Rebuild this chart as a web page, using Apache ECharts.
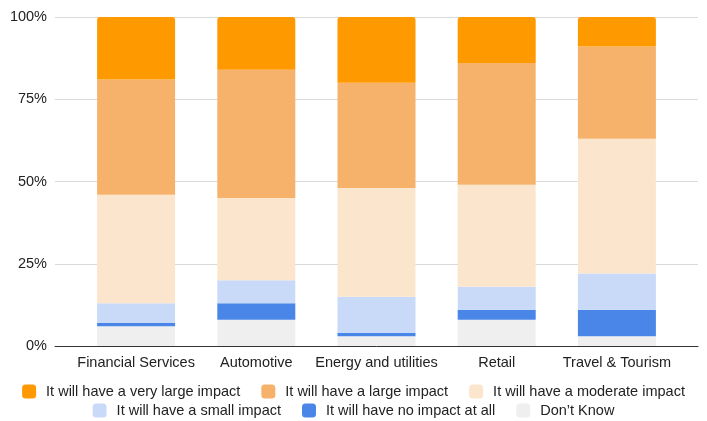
<!DOCTYPE html>
<html>
<head>
<meta charset="utf-8">
<script src="https://cdn.jsdelivr.net/npm/echarts@6/dist/echarts.min.js"></script>
<style>
  html, body { margin: 0; padding: 0; background: #fff; }
  #chart { width: 707px; height: 421px; }
</style>
</head>
<body>
<div id="chart"></div>
<script>
// Sectors along the x axis
var categories = ['Financial Services', 'Automotive', 'Energy and utilities', 'Retail', 'Travel & Tourism'];

// Share of respondents (%) per answer, stacked bottom to top
var dontKnow      = [6, 8, 3, 8, 3];
var noImpact      = [1, 5, 1, 3, 8];
var smallImpact   = [6, 7, 11, 7, 11];
var moderateImpact = [33, 25, 33, 31, 41];
var largeImpact   = [35, 39, 32, 37, 28];
var veryLargeImpact = [19, 16, 20, 14, 9];

var yTicks = [0, 25, 50, 75, 100];

var seriesDefs = [
  { name: 'Don\u2019t Know', data: dontKnow, color: '#efefef' },
  { name: 'It will have no impact at all', data: noImpact, color: '#4a86e8' },
  { name: 'It will have a small impact', data: smallImpact, color: '#c9daf8' },
  { name: 'It will have a moderate impact', data: moderateImpact, color: '#fce5cd' },
  { name: 'It will have a large impact', data: largeImpact, color: '#f6b26b' },
  { name: 'It will have a very large impact', data: veryLargeImpact, color: '#ff9900' }
];

var font = 'Arial, "Liberation Sans", Helvetica, sans-serif';
var chart = echarts.init(document.getElementById('chart'), null, { renderer: 'canvas' });

var series = seriesDefs.map(function (s, i) {
  return {
    name: s.name,
    type: 'bar',
    stack: 'total',
    xAxisIndex: 1,
    yAxisIndex: 1,
    barWidth: 78,
    data: s.data,
    itemStyle: {
      color: s.color,
      borderRadius: i === seriesDefs.length - 1 ? [3, 3, 0, 0] : 0
    },
    emphasis: { disabled: true }
  };
});

var legendText = { fontFamily: font, fontSize: 14.5, color: '#222', padding: [0, 0, 0, 5] };

chart.setOption({
  animation: false,
  backgroundColor: '#ffffff',
  legend: [
    {
      data: ['It will have a very large impact', 'It will have a large impact', 'It will have a moderate impact'],
      top: 379, left: 'center',
      icon: 'roundRect', itemWidth: 14, itemHeight: 14, itemGap: 21,
      textStyle: legendText
    },
    {
      data: ['It will have a small impact', 'It will have no impact at all', 'Don\u2019t Know'],
      top: 398, left: 'center',
      icon: 'roundRect', itemWidth: 14, itemHeight: 14, itemGap: 21,
      textStyle: legendText
    }
  ],
  grid: [
    { left: 55, right: 9, top: 17, bottom: 75 },
    { left: 76, right: 30, top: 17, bottom: 75 }
  ],
  xAxis: [
    {
      gridIndex: 0, type: 'value', min: 0, max: 1,
      axisLine: { show: true, onZero: false, lineStyle: { color: '#333', width: 1 } },
      axisTick: { show: false }, axisLabel: { show: false }, splitLine: { show: false }
    },
    {
      gridIndex: 1, type: 'category', data: categories,
      axisLine: { show: false }, axisTick: { show: false },
      axisLabel: { fontFamily: font, fontSize: 14.5, color: '#222', margin: 9, interval: 0 }
    }
  ],
  yAxis: [
    {
      gridIndex: 0, type: 'value', min: 0, max: 100, interval: 25,
      axisLine: { show: false }, axisTick: { show: false },
      axisLabel: {
        fontFamily: font, fontSize: 14.5, color: '#222', margin: 8,
        formatter: function (v) { return yTicks.indexOf(v) >= 0 ? v + '%' : ''; }
      },
      splitLine: { lineStyle: { color: '#d9d9d9', width: 1 } }
    },
    {
      gridIndex: 1, type: 'value', min: 0, max: 100,
      show: false, splitLine: { show: false }
    }
  ],
  series: series
});
</script>
</body>
</html>
